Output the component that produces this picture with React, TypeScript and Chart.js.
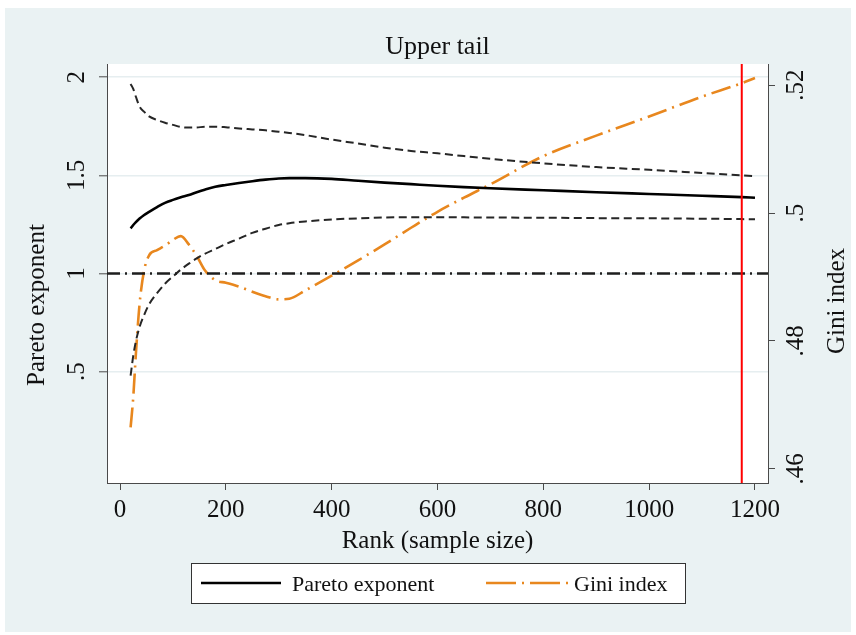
import React, { useEffect, useRef } from 'react';
import { Chart, registerables } from 'chart.js';
Chart.register(...registerables);

const RANKS = [20, 25, 30, 37, 45, 55, 70, 85, 100, 115, 130, 145, 160, 180, 200, 225, 250, 275, 300, 320, 350, 400, 450, 500, 550, 600, 650, 700, 800, 900, 1000, 1100, 1175, 1200];
const PARETO = [1.23, 1.247, 1.262, 1.28, 1.297, 1.314, 1.338, 1.36, 1.375, 1.388, 1.4, 1.414, 1.427, 1.442, 1.451, 1.461, 1.47, 1.478, 1.484, 1.486, 1.486, 1.482, 1.472, 1.463, 1.455, 1.447, 1.44, 1.434, 1.424, 1.414, 1.405, 1.396, 1.389, 1.386];
const PARETO_UPPER = [1.965, 1.94, 1.9, 1.85, 1.825, 1.8, 1.782, 1.768, 1.757, 1.746, 1.743, 1.744, 1.747, 1.748, 1.745, 1.739, 1.734, 1.729, 1.722, 1.716, 1.705, 1.682, 1.662, 1.641, 1.624, 1.612, 1.598, 1.584, 1.561, 1.542, 1.528, 1.512, 1.5, 1.496];
const PARETO_LOWER = [0.48, 0.58, 0.655, 0.728, 0.785, 0.843, 0.9, 0.948, 0.985, 1.02, 1.05, 1.077, 1.1, 1.125, 1.15, 1.178, 1.207, 1.228, 1.247, 1.256, 1.265, 1.275, 1.281, 1.285, 1.287, 1.287, 1.286, 1.285, 1.284, 1.282, 1.281, 1.279, 1.277, 1.276];
const GINI = [0.4665, 0.4712, 0.478, 0.4858, 0.4908, 0.4934, 0.4942, 0.4949, 0.4958, 0.4964, 0.4951, 0.4933, 0.4911, 0.4895, 0.4891, 0.4885, 0.4877, 0.487, 0.4865, 0.4866, 0.4879, 0.4902, 0.4926, 0.4951, 0.4977, 0.5002, 0.5024, 0.5045, 0.5089, 0.5121, 0.5151, 0.5182, 0.5203, 0.5211];

const X_TICKS = [0, 200, 400, 600, 800, 1000, 1200];
const X_TICK_LABELS = ['0', '200', '400', '600', '800', '1000', '1200'];
const Y_TICKS = [0.5, 1, 1.5, 2];
const Y_TICK_LABELS = ['.5', '1', '1.5', '2'];
const Y2_TICKS = [0.46, 0.48, 0.5, 0.52];
const Y2_TICK_LABELS = ['.46', '.48', '.5', '.52'];

const PARETO_REF = 1;
const CUTOFF_RANK = 1175;

const TITLE = 'Upper tail';
const X_TITLE = 'Rank (sample size)';
const Y_TITLE = 'Pareto exponent';
const Y2_TITLE = 'Gini index';
const LEGEND_LABELS = ['Pareto exponent', 'Gini index'];

const FONT = "'Liberation Serif', 'Times New Roman', serif";
const BG = '#eaf2f3';
const ORANGE = '#e8871e';
const AXIS = '#4a4a4a';

const pts = (vals: number[]) => RANKS.map((r, i) => ({ x: r, y: vals[i] }));

export default function App() {
  const ref = useRef<HTMLCanvasElement | null>(null);
  useEffect(() => {
    document.body.style.margin = '0';
    const canvas = ref.current!;
    const decor = {
      id: 'decor',
      beforeDraw(chart: any) {
        const { ctx, chartArea: a } = chart;
        ctx.save();
        ctx.fillStyle = '#ffffff';
        ctx.fillRect(0, 0, chart.width, chart.height);
        ctx.fillStyle = BG;
        ctx.fillRect(5, 8, 846, 624);
        ctx.fillStyle = '#ffffff';
        ctx.fillRect(a.left, a.top, a.right - a.left, a.bottom - a.top);
        ctx.restore();
      },
      afterDatasetsDraw(chart: any) {
        const { ctx, chartArea: a, scales } = chart;
        ctx.save();
        const yRef = scales.y.getPixelForValue(PARETO_REF);
        ctx.strokeStyle = '#1e1e1e';
        ctx.lineWidth = 2.6;
        ctx.setLineDash([13, 5, 2, 5]);
        ctx.beginPath();
        ctx.moveTo(a.left, yRef);
        ctx.lineTo(a.right, yRef);
        ctx.stroke();
        const xc = scales.x.getPixelForValue(CUTOFF_RANK);
        ctx.setLineDash([]);
        ctx.strokeStyle = '#ff0000';
        ctx.lineWidth = 2;
        ctx.beginPath();
        ctx.moveTo(xc, a.top);
        ctx.lineTo(xc, a.bottom);
        ctx.stroke();
        ctx.restore();
      },
      afterDraw(chart: any) {
        const { ctx, chartArea: a, scales } = chart;
        ctx.save();
        ctx.fillStyle = '#111';
        const cx = (a.left + a.right) / 2;
        ctx.font = `26px ${FONT}`;
        ctx.textAlign = 'center';
        ctx.textBaseline = 'alphabetic';
        ctx.fillText(TITLE, cx, 54);
        ctx.font = `25px ${FONT}`;
        X_TICKS.forEach((v, i) => {
          ctx.fillText(X_TICK_LABELS[i], scales.x.getPixelForValue(v), 517);
        });
        ctx.fillText(X_TITLE, cx, 548);
        const rot = (text: string, x: number, y: number) => {
          ctx.save();
          ctx.translate(x, y);
          ctx.rotate(-Math.PI / 2);
          ctx.textAlign = 'center';
          ctx.fillText(text, 0, 0);
          ctx.restore();
        };
        Y_TICKS.forEach((v, i) => rot(Y_TICK_LABELS[i], 84, scales.y.getPixelForValue(v)));
        Y2_TICKS.forEach((v, i) => rot(Y2_TICK_LABELS[i], 803, scales.y2.getPixelForValue(v)));
        rot(Y_TITLE, 44, 305);
        rot(Y2_TITLE, 844, 301);
        ctx.fillStyle = '#ffffff';
        ctx.fillRect(191, 563, 494, 40);
        ctx.strokeStyle = '#333';
        ctx.lineWidth = 1;
        ctx.strokeRect(191.5, 563.5, 494, 40);
        const ly = 583;
        ctx.lineWidth = 2.6;
        ctx.strokeStyle = '#000';
        ctx.beginPath();
        ctx.moveTo(201, ly);
        ctx.lineTo(281, ly);
        ctx.stroke();
        ctx.strokeStyle = ORANGE;
        ctx.setLineDash([30, 6, 2, 6]);
        ctx.beginPath();
        ctx.moveTo(486, ly);
        ctx.lineTo(568, ly);
        ctx.stroke();
        ctx.setLineDash([]);
        ctx.fillStyle = '#111';
        ctx.font = `22px ${FONT}`;
        ctx.textAlign = 'left';
        ctx.fillText(LEGEND_LABELS[0], 292, 591);
        ctx.fillText(LEGEND_LABELS[1], 574, 591);
        ctx.restore();
      },
    };

    const chart = new Chart(canvas, {
      type: 'line',
      data: {
        datasets: [
          { label: 'Upper', data: pts(PARETO_UPPER), yAxisID: 'y', borderColor: '#262626', borderWidth: 2, borderDash: [8, 4.5], pointRadius: 0, cubicInterpolationMode: 'monotone', fill: false },
          { label: 'Lower', data: pts(PARETO_LOWER), yAxisID: 'y', borderColor: '#262626', borderWidth: 2, borderDash: [8, 4.5], pointRadius: 0, cubicInterpolationMode: 'monotone', fill: false },
          { label: LEGEND_LABELS[0], data: pts(PARETO), yAxisID: 'y', borderColor: '#000', borderWidth: 2.6, pointRadius: 0, cubicInterpolationMode: 'monotone', fill: false },
          { label: LEGEND_LABELS[1], data: pts(GINI), yAxisID: 'y2', borderColor: ORANGE, borderWidth: 2.6, borderDash: [20, 6, 2, 6], pointRadius: 0, cubicInterpolationMode: 'monotone', fill: false },
        ],
      } as any,
      options: {
        animation: false,
        responsive: false,
        devicePixelRatio: 1,
        layout: { padding: { top: 64, left: 0, right: 0, bottom: 0 } },
        plugins: { legend: { display: false }, title: { display: false }, tooltip: { enabled: false } },
        scales: {
          x: {
            type: 'linear',
            position: 'bottom',
            min: -24.6,
            max: 1224.6,
            afterBuildTicks: (s: any) => { s.ticks = X_TICKS.map((v) => ({ value: v })); },
            afterFit: (s: any) => { s.height = 152; },
            ticks: { display: false },
            grid: { drawOnChartArea: false, drawTicks: true, tickLength: 7, tickColor: AXIS, tickWidth: 1 },
            border: { display: true, color: AXIS, width: 1 },
          },
          y: {
            type: 'linear',
            position: 'left',
            min: -0.067,
            max: 2.067,
            afterBuildTicks: (s: any) => { s.ticks = Y_TICKS.map((v) => ({ value: v })); },
            afterFit: (s: any) => { s.width = 107; },
            ticks: { display: false },
            grid: { drawOnChartArea: true, color: '#e6eef0', lineWidth: 1.6, drawTicks: true, tickLength: 8, tickColor: AXIS, tickWidth: 1 },
            border: { display: true, color: AXIS, width: 1 },
          },
          y2: {
            type: 'linear',
            position: 'right',
            min: 0.4578,
            max: 0.5233,
            afterBuildTicks: (s: any) => { s.ticks = Y2_TICKS.map((v) => ({ value: v })); },
            afterFit: (s: any) => { s.width = 88; },
            ticks: { display: false },
            grid: { drawOnChartArea: false, drawTicks: true, tickLength: 7, tickColor: AXIS, tickWidth: 1 },
            border: { display: true, color: AXIS, width: 1 },
          },
        },
      } as any,
      plugins: [decor],
    });
    return () => chart.destroy();
  }, []);
  return <canvas ref={ref} width={856} height={635} style={{ display: 'block', width: 856, height: 635 }} />;
}
